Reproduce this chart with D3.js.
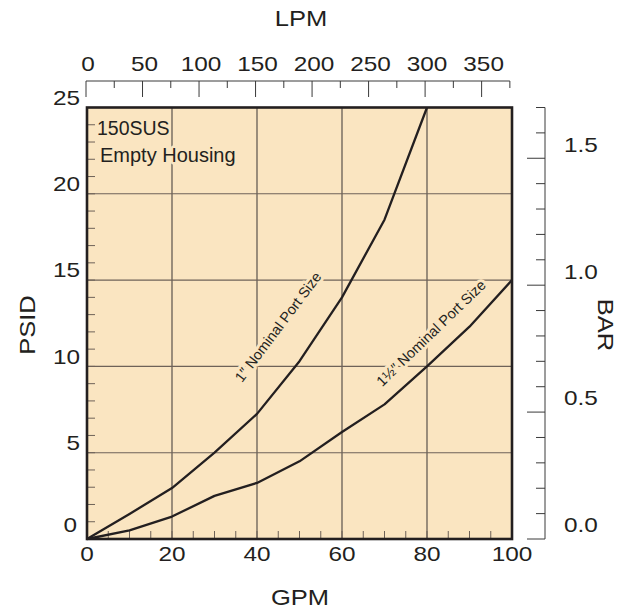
<!DOCTYPE html>
<html><head><meta charset="utf-8">
<script src="https://cdn.jsdelivr.net/npm/d3@7"></script>
<style>
html,body{margin:0;padding:0;background:#fff;}
text{font-family:"Liberation Sans",Arial,Helvetica,sans-serif;fill:#231f20;}
</style></head>
<body>
<svg id="chart" width="626" height="612"></svg>
<script>
// ---- data ----
const gpmTicks = [0, 20, 40, 60, 80, 100];
const psiTicks = [0, 5, 10, 15, 20, 25];
const lpmTicks = [0, 50, 100, 150, 200, 250, 300, 350];
const barTicks = [0.0, 0.5, 1.0, 1.5];
const flow1 = [0, 10, 20, 30, 40, 50, 60, 70, 80];
const psi1 = [0, 1.45, 2.95, 5.0, 7.25, 10.3, 14.0, 18.5, 25];
const flow15 = [0, 10, 20, 30, 40, 50, 60, 70, 80, 90, 100];
const psi15 = [0, 0.5, 1.3, 2.5, 3.25, 4.5, 6.2, 7.8, 10.0, 12.3, 15.0];
const notes = ["150SUS", "Empty Housing"];
const seriesLabels = ["1\u2033 Nominal Port Size", "1\u00BD\u2033 Nominal Port Size"];

// ---- layout ----
const X0 = 87, X1 = 512, Y0 = 539, Y1 = 107.5;
const bg = "#fae5c1", ink = "#231f20";
const SX = 1.16; // horizontal stretch of axis lettering
const svg = d3.select("#chart");
const x = d3.scaleLinear().domain([0, 100]).range([X0, X1]);
const y = d3.scaleLinear().domain([0, 25]).range([Y0, Y1]);
const xL = d3.scaleLinear().domain([0, 376]).range([X0 - 1, X1 - 1]);
const yB = d3.scaleLinear().domain([0, 1.7]).range([Y0, Y1]);

svg.append("rect").attr("x", X0).attr("y", Y1).attr("width", X1 - X0).attr("height", Y0 - Y1).attr("fill", bg);

// gridlines
const g = svg.append("g");
g.selectAll(".vg").data([20, 40, 60, 80]).join("line")
  .attr("x1", d => x(d)).attr("x2", d => x(d)).attr("y1", Y0).attr("y2", Y1)
  .attr("stroke", "#4a4440").attr("stroke-width", 1.1);
g.selectAll(".hg").data([5, 10, 15, 20]).join("line")
  .attr("x1", X0).attr("x2", X1).attr("y1", d => y(d)).attr("y2", d => y(d))
  .attr("stroke", "#6e6258").attr("stroke-width", 1.1);

// inner minor ticks
g.selectAll(".lt").data(d3.range(1, 25)).join("line")
  .attr("x1", X0).attr("x2", X0 + 8).attr("y1", d => y(d)).attr("y2", d => y(d))
  .attr("stroke", "#6e6258").attr("stroke-width", 1);
g.selectAll(".bt").data(d3.range(5, 100, 5)).join("line")
  .attr("x1", d => x(d)).attr("x2", d => x(d)).attr("y1", Y0).attr("y2", Y0 - 8)
  .attr("stroke", "#6e6258").attr("stroke-width", 1);

// annotations with halo
const halo = (sel, w) => sel.attr("stroke", bg).attr("stroke-width", w).attr("paint-order", "stroke").attr("stroke-linejoin", "round");
svg.append("text").text(notes[0]).attr("x", 97).attr("y", 135).attr("font-size", 19.5);
svg.append("text").text(notes[1]).attr("x", 100).attr("y", 162).attr("font-size", 20).call(halo, 5);
svg.append("text").text(seriesLabels[0]).attr("transform", `translate(278,327) rotate(-53)`)
  .attr("text-anchor", "middle").attr("dy", "0.35em").attr("font-size", 14.5).call(halo, 6);
svg.append("text").text(seriesLabels[1]).attr("transform", `translate(431,333) rotate(-44)`)
  .attr("text-anchor", "middle").attr("dy", "0.35em").attr("font-size", 14.5).call(halo, 6);

// curves
const line = d3.line().x(d => x(d[0])).y(d => y(d[1])).curve(d3.curveLinear);
svg.append("path").datum(flow1.map((f, i) => [f, psi1[i]])).attr("d", line)
  .attr("fill", "none").attr("stroke", ink).attr("stroke-width", 2.3).attr("stroke-linejoin", "round");
svg.append("path").datum(flow15.map((f, i) => [f, psi15[i]])).attr("d", line)
  .attr("fill", "none").attr("stroke", ink).attr("stroke-width", 2.3).attr("stroke-linejoin", "round");

// border
svg.append("rect").attr("x", X0).attr("y", Y1).attr("width", X1 - X0).attr("height", Y0 - Y1)
  .attr("fill", "none").attr("stroke", ink).attr("stroke-width", 2.6);

const place = (px, py, extra) => `translate(${px},${py})${extra || ""} scale(${SX},1)`;

// bottom tick labels
svg.selectAll(".bl").data(gpmTicks).join("text")
  .attr("transform", d => place(x(d), 561)).attr("text-anchor", "middle").attr("font-size", 21).text(d => d);
// left tick labels
svg.selectAll(".ll").data(psiTicks).join("text")
  .attr("transform", d => place(d === 0 ? 77 : 80, y(d) - (d === 0 ? 14 : 10)))
  .attr("dy", "0.35em").attr("text-anchor", "end").attr("font-size", 21).text(d => d);

// top LPM axis
const ta = svg.append("g").attr("transform", "translate(0,81)");
ta.append("line").attr("x1", xL(0)).attr("x2", xL(375)).attr("y1", 0).attr("y2", 0).attr("stroke", "#3a3a3a").attr("stroke-width", 1);
ta.selectAll(".tt").data(d3.range(0, 376, 25)).join("line")
  .attr("x1", d => xL(d)).attr("x2", d => xL(d)).attr("y1", 0).attr("y2", d => d % 50 === 0 ? 16 : 7)
  .attr("stroke", "#3a3a3a").attr("stroke-width", 1);
svg.selectAll(".tl").data(lpmTicks).join("text")
  .attr("transform", d => place(xL(d) + 2, 71)).attr("text-anchor", "middle").attr("font-size", 21).text(d => d);

// right BAR axis
const RA = 545;
const ra = svg.append("g");
ra.append("line").attr("x1", RA).attr("x2", RA).attr("y1", yB(0)).attr("y2", yB(1.7)).attr("stroke", "#3a3a3a").attr("stroke-width", 1);
ra.selectAll(".rt").data(d3.range(0, 18).map(i => i / 10)).join("line")
  .attr("x1", RA).attr("x2", (d, i) => i % 5 === 0 ? RA - 18 : RA - 9)
  .attr("y1", d => yB(d)).attr("y2", d => yB(d)).attr("stroke", "#3a3a3a").attr("stroke-width", 1);
svg.selectAll(".rl").data(barTicks).join("text")
  .attr("transform", d => place(564, yB(d) - 14)).attr("dy", "0.35em").attr("font-size", 21).text(d => d.toFixed(1));

// titles
svg.append("text").text("LPM").attr("transform", place(301, 26)).attr("text-anchor", "middle").attr("font-size", 22);
svg.append("text").text("GPM").attr("transform", place(300, 605)).attr("text-anchor", "middle").attr("font-size", 22);
svg.append("text").text("PSID").attr("transform", place(35, 325, " rotate(-90)")).attr("text-anchor", "middle").attr("font-size", 22);
svg.append("text").text("BAR").attr("transform", place(598, 325, " rotate(90)")).attr("text-anchor", "middle").attr("font-size", 22);
</script>
</body></html>
